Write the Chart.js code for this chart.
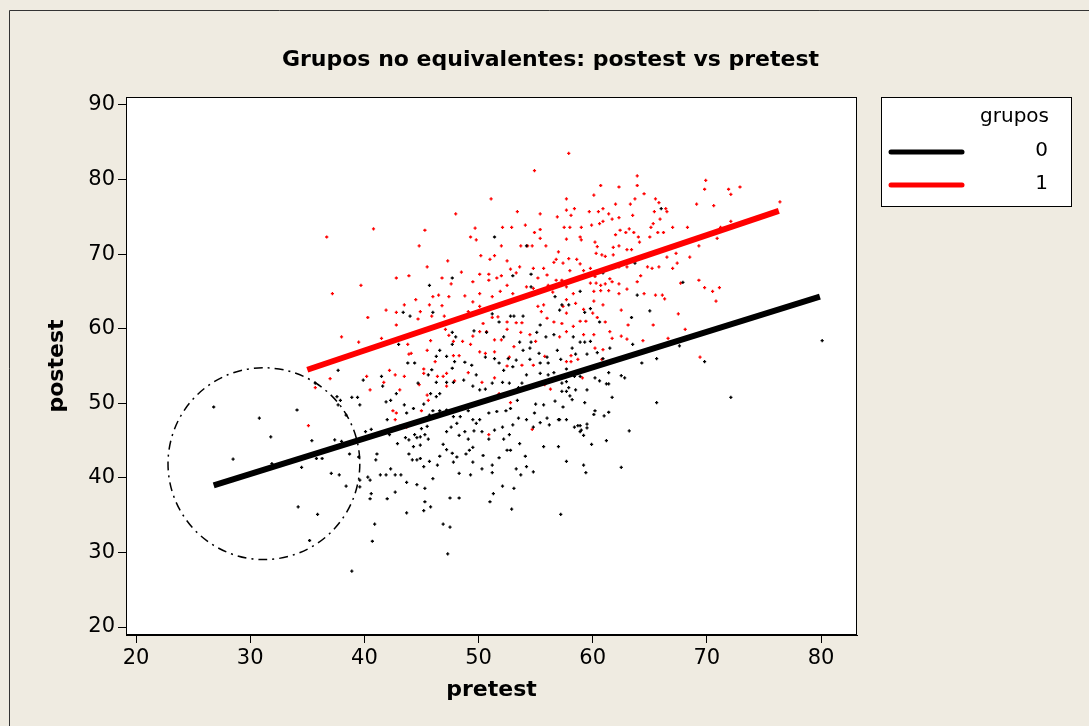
<!DOCTYPE html>
<html lang="es">
<head>
<meta charset="utf-8">
<title>Grupos no equivalentes: postest vs pretest</title>
<script src="https://cdn.jsdelivr.net/npm/chart.js@4.4.1/dist/chart.umd.min.js"></script>
<style>
  html, body { margin: 0; padding: 0; background: #efebe1; }
  #grafica { display: block; }
</style>
</head>
<body>
<canvas id="grafica" width="1089" height="726"></canvas>
<script>
// Datos
const grupos = ['0', '1'];
const ticksX = [20, 30, 40, 50, 60, 70, 80];
const ticksY = [20, 30, 40, 50, 60, 70, 80, 90];

// Rectas de regresión de cada grupo: extremos [pretest, postest]
const recta0 = [[26.8, 39.0], [79.9, 64.3]];
const recta1 = [[35.0, 54.5], [76.3, 75.8]];

// Círculo que marca la zona baja del grupo 0: [pretest centro, postest centro, radio en pretest]
const circulo = [31.2, 41.9, 8.4];

// Grupo 0 (negro): [pretest, postest]
const grupo0 = [
  [51.4,72.3],[47.7,66.8],[45.7,65.8],[54.2,71.1],[54.6,67.3],[53.0,67.1],[54.6,65.6],[43.4,62.2],[44.0,61.7],[46.0,62.2],
  [45.2,59.7],[47.7,59.5],[48.0,58.9],[47.7,57.9],[46.6,57.1],[43.0,57.9],[49.6,59.7],[50.7,59.5],[51.2,62.0],[51.8,60.9],
  [52.8,61.7],[53.1,61.7],[53.9,61.7],[52.2,58.9],[53.6,58.2],[53.9,57.1],[54.6,58.2],[54.5,57.4],[55.4,60.5],[55.1,59.5],
  [55.9,58.9],[56.6,59.2],[57.1,62.5],[56.7,64.3],[57.9,63.2],[55.3,56.7],[56.9,57.1],[56.0,56.2],[52.6,56.0],[51.4,56.0],
  [50.6,56.2],
  [66.0,76.1],[63.7,68.8],[61.4,68.1],[60.9,67.5],[67.9,66.2],[58.9,65.0],[63.9,64.5],[57.3,63.2],[59.3,62.2],[59.8,62.7],
  [60.6,60.9],[63.4,61.5],[65.0,62.4],[58.3,58.9],[58.9,58.2],[59.8,58.3],[59.3,58.2],[58.2,57.4],[61.5,57.4],[63.5,57.9],
  [67.6,57.7],[60.4,56.8],[60.9,56.0],[65.6,56.0],[80.1,58.4],
  [37.7,54.4],[37.6,50.9],[37.9,50.4],[38.9,50.8],[39.4,50.8],[39.6,49.8],[37.7,49.8],[38.4,48.4],[40.6,46.5],[40.1,46.2],
  [37.4,45.1],[38.0,44.9],[35.4,45.0],[35.8,42.6],[36.3,42.6],[34.5,41.4],[38.7,43.2],[39.5,42.8],[41.1,43.2],[41.0,42.4],
  [37.1,40.6],[37.8,40.4],[40.3,40.1],[40.5,39.7],[41.4,40.4],[41.9,40.4],[42.3,41.2],[42.7,40.4],[43.2,40.4],[38.4,38.9],
  [39.6,39.7],[39.6,38.8],[40.6,37.9],[40.5,37.2],[42.0,37.2],[42.7,38.1],[43.7,39.4],[44.6,39.1],[45.3,38.6],[45.3,36.8],
  [45.8,36.1],[45.2,35.6],[46.0,39.9],[43.7,35.3],[35.9,35.1],[40.9,33.8],[40.7,31.5],[46.9,33.8],[47.5,33.4],[47.5,37.3],
  [48.3,37.3],[47.3,29.8],[38.9,27.5],[51.0,36.8],[51.3,37.9],[52.1,38.9],[53.1,38.6],[52.9,35.8],[57.2,35.1],[48.3,40.6],
  [49.3,40.4],[51.2,40.7],[51.8,42.7],[53.3,41.2],[53.7,40.4],[54.1,42.9],[50.3,41.2],[49.5,42.1],[50.4,43.0],[51.2,41.7],
  [48.9,43.2],[49.2,43.7],[49.5,44.1],[47.8,42.1],[48.1,42.8],[46.6,42.9],[46.4,41.7],[45.7,42.2],[45.2,41.5],[44.6,42.4],
  [44.9,42.6],[44.2,42.4],[43.9,43.2],[42.9,44.6],[43.6,45.4],[43.9,45.1],[44.4,45.8],[44.9,45.5],[45.6,45.2],[45.3,45.8],
  [44.3,44.2],[44.9,44.4],[46.9,44.5],[47.2,43.8],[47.7,43.3],[47.2,46.2],[47.6,46.8],[48.3,45.7],[48.8,46.2],[49.1,45.2],
  [49.6,46.3],[49.8,47.3],[50.3,46.2],[50.9,45.2],[51.4,46.4],[52.1,46.8],[52.2,45.2],[52.5,43.7],[52.8,43.7],[52.7,45.8],
  [53.0,47.1],[53.5,48.0],[54.2,47.8],[54.9,48.7],[55.4,47.4],[56.2,47.1],[56.0,48.0],[57.0,47.8],[57.7,47.8],[57.0,44.2],
  [57.7,42.2],[56.7,50.3],[55.7,49.8],[55.0,49.9],[53.4,50.4],[52.4,49.0],[52.8,49.3],[51.6,48.9],[50.9,48.7],[50.1,47.8],
  [49.5,47.8],[49.1,49.0],[48.1,47.3],[47.8,48.2],[48.4,48.2],[47.2,49.1],[46.6,49.0],[46.0,49.0],[45.7,48.4],[45.5,46.9],
  [45.0,46.6],[44.6,45.4],[43.1,46.9],[42.0,47.8],[42.2,45.8],[43.7,48.7],[44.3,49.3],[43.5,49.8],[42.3,50.4],[41.9,50.2],
  [42.8,51.3],[45.2,49.9],[45.8,51.3],[46.3,50.9],[46.6,51.3],[46.3,52.8],[47.2,52.8],[47.8,52.8],[48.7,53.1],[49.5,52.3],
  [50.1,51.8],[50.6,51.9],[51.2,52.7],[52.1,52.8],[52.7,52.7],[53.8,52.7],[54.2,53.8],[55.4,54.0],[56.1,53.8],[56.6,54.1],
  [57.3,52.7],[57.7,52.9],[55.4,55.4],[54.5,55.9],[53.0,54.9],[52.2,54.4],[49.4,55.1],[48.8,55.5],[47.9,55.6],
  [47.2,56.3],[46.3,56.3],[45.9,54.5],[45.6,53.8],[44.7,52.7],[43.8,55.4],[44.4,55.4],[41.5,53.6],[41.6,52.3],[39.9,53.1],
  [47.7,54.7],[49.8,53.8],[51.8,55.4],[53.3,55.8],[56.1,55.4],[53.5,52.1],[54.8,46.8],[53.6,44.6],[55.7,44.2],
  [54.2,41.5],[54.8,40.8],
  [57.2,55.9],[57.7,54.6],[58.5,56.6],[59.5,56.6],[64.3,55.4],[69.8,55.6],[58.4,53.6],[58.9,53.6],
  [60.2,53.4],[60.6,53.0],[61.4,54.1],[62.5,53.7],[62.8,53.4],[61.2,52.6],[61.4,52.6],[57.9,52.1],[57.7,51.6],[57.3,51.6],
  [58.5,51.8],[59.5,51.8],[58.0,51.0],[58.2,50.5],[61.7,50.8],[65.6,50.1],[72.1,50.8],[59.3,50.1],[57.4,49.5],[60.2,49.0],
  [60.1,48.5],[61.4,48.8],[61.0,48.3],[57.1,47.8],[59.5,47.2],[58.4,46.8],[58.7,47.0],[58.9,47.0],[59.5,46.7],
  [59.0,46.4],[58.9,46.2],[59.2,45.7],[63.2,46.3],[61.2,45.0],[59.9,44.5],[59.2,41.7],[59.4,40.7],[62.5,41.4],
  [26.8,49.5],[30.8,48.0],[31.8,45.5],[28.5,42.5],[34.1,49.1],[34.2,36.1],[31.9,41.9],[35.2,31.6],[35.7,52.7]
];

// Grupo 1 (rojo): [pretest, postest]
const grupo1 = [
  [57.9,83.5],[54.9,81.2],[51.1,77.4],[48.0,75.4],[40.8,73.4],[36.7,72.3],[45.3,73.2],[53.4,75.7],[55.4,75.4],[56.9,75.0],
  [57.7,77.4],[49.7,73.5],[52.1,73.6],[52.9,73.6],[54.1,73.9],[55.4,73.3],[49.3,72.3],[49.8,71.9],[44.8,71.1],
  [52.0,71.1],[53.7,71.1],[54.7,71.1],[55.4,72.1],[55.9,71.1],[50.2,69.8],[51.0,69.3],[51.4,69.8],[52.5,69.1],[47.3,69.1],
  [45.5,68.3],[42.8,66.8],[43.9,67.1],[39.7,65.8],[37.2,64.7],[46.8,66.8],[48.5,67.6],[47.6,66.0],[49.5,66.3],[50.1,67.3],
  [50.9,67.3],[50.9,66.5],[51.6,66.8],[52.5,65.8],[52.0,67.1],[52.8,68.0],[53.3,67.5],[53.6,68.3],[54.8,68.1],[55.7,68.1],
  [55.2,66.8],[56.0,67.2],[56.8,69.3],[57.0,70.3],[56.6,68.9],[56.8,66.5],[56.1,65.8],[53.0,64.7],[51.9,65.0],[50.1,64.7],
  [51.2,64.3],[48.8,64.4],[47.4,64.3],[46.5,64.5],[46.0,64.3],[46.8,63.1],[45.7,63.2],[44.5,63.9],[43.5,63.2],[42.8,62.2],
  [41.9,62.5],[40.3,61.5],[41.5,58.7],[39.5,58.2],[38.0,58.9],[42.8,60.5],[43.8,57.9],[44.1,56.7],[45.5,57.1],[45.8,58.4],
  [44.9,62.3],[44.7,61.3],[45.9,61.7],[47.0,61.7],[47.1,59.9],[47.4,59.1],[47.8,58.3],[48.6,58.3],[49.3,57.9],[48.3,56.4],
  [49.5,59.0],[50.1,59.6],[50.7,59.6],[50.4,60.7],[51.2,61.5],[51.7,61.6],[52.5,59.9],[52.5,60.9],[53.3,60.8],[53.8,60.8],
  [51.4,58.5],[52.0,58.5],[53.1,57.6],[53.7,59.5],[55.2,63.0],[55.5,62.3],[56.0,61.4],[56.6,60.9],[57.3,60.7],[55.7,63.2],
  [54.5,59.2],[55.0,58.3],[57.1,58.9],[57.7,62.1],[50.6,56.7],[50.1,63.0],[49.5,63.6],[49.1,62.3],[54.4,64.4],[54.2,65.6],
  [54.8,65.4],[56.5,64.9],[54.3,71.1],[54.9,72.9],[57.7,72.0],[57.7,75.9],[57.9,69.4],[57.4,68.8],
  [63.9,80.5],[60.7,79.2],[62.3,79.0],[63.9,79.2],[64.5,78.1],[69.9,79.9],[69.8,78.7],[71.9,78.7],[72.9,79.0],[72.1,78.0],
  [60.1,77.9],[63.7,77.4],[65.5,77.4],[65.8,76.9],[69.1,76.7],[70.6,76.5],[62.0,76.7],[63.3,76.7],[66.4,76.1],[66.5,75.7],
  [65.4,75.7],[58.4,76.1],[59.7,75.7],[60.5,75.7],[60.9,76.1],[61.4,75.4],[63.5,75.2],[58.1,75.2],[61.7,74.7],[62.3,74.9],
  [60.9,74.4],[60.6,74.1],[65.3,74.1],[65.9,74.7],[59.9,73.9],[59.0,73.6],[58.0,73.6],[57.5,73.6],[63.2,73.4],[62.4,73.2],
  [62.0,72.6],[62.9,72.9],[63.6,72.9],[65.1,73.6],[65.7,72.9],[66.2,72.9],[67.0,73.6],[68.3,73.6],[71.2,73.6],[72.1,74.4],
  [64.0,72.3],[65.0,72.3],[58.9,72.3],[59.0,71.9],[60.2,71.6],[60.4,71.0],[61.8,70.9],[62.3,71.1],[63.0,70.6],[63.4,70.6],
  [64.1,71.6],[69.3,71.1],[70.9,72.1],[76.4,77.0],[60.8,69.9],[61.1,69.7],[61.8,69.9],[60.3,70.1],[58.6,69.3],[58.9,68.7],
  [59.8,68.1],[59.2,67.8],[58.0,67.8],[62.3,68.3],[63.0,68.3],[64.8,68.3],[65.2,68.1],[65.8,68.3],[66.5,69.6],[67.3,70.1],
  [67.0,68.1],[67.4,68.8],[68.5,69.6],[60.2,67.0],[61.5,66.7],[64.2,67.1],[63.9,66.3],[59.8,66.1],[60.3,66.1],[60.7,65.8],
  [61.1,66.0],[61.7,66.3],[62.3,66.0],[62.3,64.7],[63.0,65.3],[64.5,64.7],[65.5,64.5],[66.1,64.5],[66.3,64.0],[67.7,66.1],
  [69.3,66.5],[69.8,65.5],[70.5,65.0],[70.8,63.7],[71.1,65.5],[60.1,65.0],[60.7,65.1],[61.4,65.1],[58.3,64.7],[57.7,63.9],
  [58.5,63.4],[60.1,63.7],[60.9,63.2],[59.2,62.6],[60.0,62.1],[60.4,61.5],[61.1,60.9],[62.5,62.5],[63.1,60.5],[65.3,60.5],
  [67.5,62.0],[68.1,59.9],[58.3,60.3],[57.7,59.6],[59.2,59.2],[60.1,59.2],[61.5,59.6],[61.7,58.7],[62.5,59.0],[63.0,58.6],
  [64.4,58.4],[66.6,58.7],[60.9,57.2],[60.2,57.4],[69.4,56.2],[58.9,61.0],[59.4,61.0],[57.4,63.0],[57.7,65.6],[57.3,66.5],
  [43.9,56.6],[47.8,56.4],[46.2,55.6],[45.2,54.6],[45.2,54.0],[42.2,54.4],[40.2,53.6],[37.0,53.3],[41.7,52.8],[40.5,51.8],
  [42.7,53.8],[43.5,53.6],[44.8,52.5],[46.4,53.6],[46.9,53.6],[47.2,54.0],[47.9,53.0],[47.2,52.3],[43.1,51.8],[45.5,51.1],
  [45.6,50.4],[42.5,49.0],[42.8,48.7],[45.0,49.0],[42.7,47.8],[43.7,46.8],[35.1,47.0],[35.7,52.1],[49.1,54.1],[50.3,52.8],
  [51.4,53.4],[51.8,51.3],[52.8,50.1],[48.6,49.3],[50.1,56.9],[51.4,56.9],[52.7,56.2],[53.8,55.1],[54.8,55.1],[55.8,56.3],
  [56.3,51.9],[55.8,52.5],[54.7,46.5],[50.9,45.8],[52.5,55.0],
  [58.1,56.4],[57.7,55.6],[58.1,55.6],[58.7,55.9],[60.8,55.9],[59.1,53.4]
];

const coloresGrupo = ['#000000', '#ff0000'];
const fuente = '"DejaVu Sans", Tahoma, Verdana, sans-serif';
const fondoColor = '#efebe1';

Chart.defaults.font.family = fuente;
Chart.defaults.color = '#000';

const aPuntos = lista => lista.map(([x, y]) => ({ x, y }));

// Fondo, marco exterior, área blanca, círculo y leyenda propia
const decorado = {
  id: 'decorado',
  beforeDraw(chart) {
    const { ctx, chartArea: a, width, height } = chart;
    ctx.save();
    ctx.fillStyle = fondoColor;
    ctx.fillRect(0, 0, width, height);
    ctx.strokeStyle = '#333';
    ctx.lineWidth = 1;
    ctx.beginPath();
    ctx.moveTo(9.5, height);
    ctx.lineTo(9.5, 10.5);
    ctx.lineTo(width, 10.5);
    ctx.stroke();
    ctx.fillStyle = '#fff';
    ctx.fillRect(a.left, a.top, a.right - a.left, a.bottom - a.top);
    ctx.restore();
  },
  afterDatasetsDraw(chart) {
    const { ctx, scales: { x, y } } = chart;
    const cx = x.getPixelForValue(circulo[0]);
    const cy = y.getPixelForValue(circulo[1]);
    const r = x.getPixelForValue(circulo[0] + circulo[2]) - cx;
    ctx.save();
    ctx.setLineDash([9, 5, 2, 5]);
    ctx.lineWidth = 1.5;
    ctx.strokeStyle = '#000';
    ctx.beginPath();
    ctx.arc(cx, cy, r, 0, Math.PI * 2);
    ctx.stroke();
    ctx.restore();
  },
  afterDraw(chart) {
    const { ctx, chartArea: a } = chart;
    ctx.save();
    ctx.strokeStyle = '#000';
    ctx.lineWidth = 1;
    ctx.strokeRect(a.left + 0.5, a.top + 0.5, a.right - a.left - 1, a.bottom - a.top - 1);

    // leyenda
    const lx = a.right + 24, ly = a.top;
    ctx.fillStyle = '#fff';
    ctx.fillRect(lx, ly, 190, 109);
    ctx.strokeRect(lx + 0.5, ly + 0.5, 190, 109);
    ctx.fillStyle = '#000';
    ctx.font = '20px ' + fuente;
    ctx.textAlign = 'right';
    ctx.textBaseline = 'middle';
    ctx.fillText('grupos', lx + 168, ly + 20);
    grupos.forEach((g, i) => {
      const yy = ly + 55 + i * 33;
      ctx.strokeStyle = coloresGrupo[i];
      ctx.lineWidth = 5;
      ctx.lineCap = 'round';
      ctx.beginPath();
      ctx.moveTo(lx + 10, yy);
      ctx.lineTo(lx + 81, yy);
      ctx.stroke();
      ctx.fillText(g, lx + 167, yy - 1);
    });
    ctx.restore();
  }
};

new Chart(document.querySelector('#grafica'), {
  type: 'scatter',
  data: {
    datasets: [
      {
        label: grupos[0], data: aPuntos(recta0), showLine: true, order: 0,
        borderColor: coloresGrupo[0], borderWidth: 6, pointRadius: 0
      },
      {
        label: grupos[1], data: aPuntos(recta1), showLine: true, order: 0,
        borderColor: coloresGrupo[1], borderWidth: 6, pointRadius: 0
      },
      {
        label: grupos[0], data: aPuntos(grupo0), order: 2,
        pointStyle: 'cross', pointRadius: 1.6, borderWidth: 1.3,
        borderColor: coloresGrupo[0], backgroundColor: coloresGrupo[0]
      },
      {
        label: grupos[1], data: aPuntos(grupo1), order: 3,
        pointStyle: 'cross', pointRadius: 1.6, borderWidth: 1.3,
        borderColor: coloresGrupo[1], backgroundColor: coloresGrupo[1]
      }
    ]
  },
  options: {
    responsive: false,
    animation: false,
    devicePixelRatio: 1,
    layout: { padding: { left: 12, top: 0, right: 0, bottom: 0 } },
    plugins: {
      legend: { display: false },
      tooltip: { enabled: false },
      title: {
        display: true,
        text: 'Grupos no equivalentes: postest vs pretest',
        font: { size: 22, weight: 'bold' },
        color: '#000',
        padding: { top: 47, bottom: 23.6 }
      }
    },
    scales: {
      x: {
        min: 19.12, max: 83.15,
        afterBuildTicks: s => { s.ticks = ticksX.map(v => ({ value: v })); },
        afterFit: s => { s.height = 91; },
        ticks: { font: { size: 21 }, color: '#000', padding: 3 },
        grid: { drawOnChartArea: false, tickLength: 8, tickColor: '#000', tickWidth: 1 },
        border: { display: true, color: '#000', width: 1 },
        title: { display: true, text: 'pretest', font: { size: 22, weight: 'bold' }, color: '#000', padding: { top: 0, bottom: 23 } }
      },
      y: {
        min: 18.93, max: 91.07,
        afterBuildTicks: s => { s.ticks = ticksY.map(v => ({ value: v })); },
        afterFit: s => { s.width = 114; },
        ticks: { font: { size: 21 }, color: '#000', padding: 3 },
        grid: { drawOnChartArea: false, tickLength: 8, tickColor: '#000', tickWidth: 1 },
        border: { display: true, color: '#000', width: 1 },
        title: { display: true, text: 'postest', font: { size: 22, weight: 'bold' }, color: '#000', padding: { top: 32, bottom: 0 } }
      },
      derecha: {
        type: 'linear', position: 'right', display: true,
        ticks: { display: false },
        grid: { display: false },
        border: { display: false },
        afterFit: s => { s.width = 232; }
      }
    }
  },
  plugins: [decorado]
});
</script>
</body>
</html>
